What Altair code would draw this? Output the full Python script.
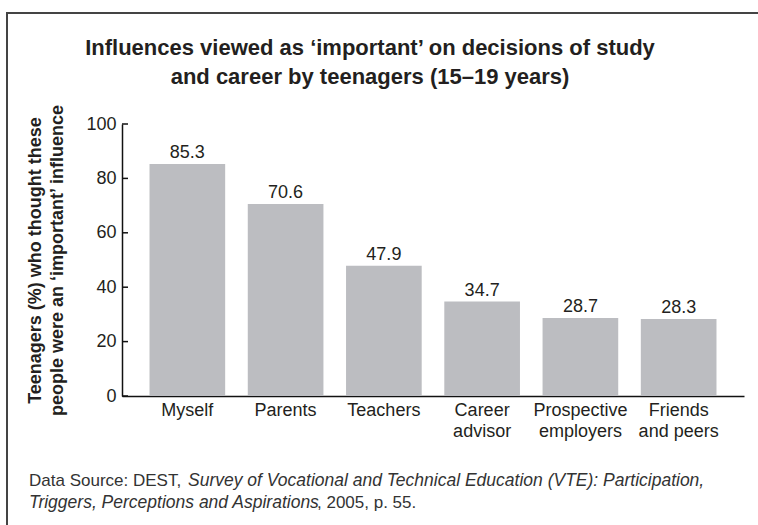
import altair as alt
import pandas as pd

# ---- data ----
categories = ["Myself", "Parents", "Teachers", "Career\nadvisor",
              "Prospective\nemployers", "Friends\nand peers"]
values = [85.3, 70.6, 47.9, 34.7, 28.7, 28.3]
y_ticks = [0, 20, 40, 60, 80, 100]

title_lines = ["Influences viewed as \u2018important\u2019 on decisions of study",
               "and career by teenagers (15\u201319 years)"]
y_title_lines = ["Teenagers (%) who thought these",
                 "people were an \u2018important\u2019 influence"]
source_text = ["Data Source: DEST,",
               "Survey of Vocational and Technical Education (VTE): Participation,",
               "Triggers, Perceptions and Aspirations",
               ", 2005, p. 55."]
source_style = ["normal", "italic", "italic", "normal"]
source_size = [17, 17.5, 17.5, 17]

FONT = "Liberation Sans"
TXT = "#231f20"
W, H = 622, 272
PAD_L, PAD_T = 122, 124

df = pd.DataFrame({"cat": categories, "val": values})
ticks_df = pd.DataFrame({"t": y_ticks})

x_enc = alt.X("cat:N", sort=None,
              scale=alt.Scale(paddingInner=0.23, paddingOuter=0.28),
              axis=alt.Axis(title=None, labelAngle=0, ticks=False,
                            domainColor="#111", domainWidth=1.5,
                            labelFont=FONT, labelFontSize=18, labelColor=TXT,
                            labelPadding=5, labelLineHeight=21,
                            labelExpr="split(datum.label, '\\n')"))
y_enc = alt.Y("val:Q", scale=alt.Scale(domain=[0, 100], nice=False),
              axis=alt.Axis(title=y_title_lines, values=y_ticks, grid=False,
                            ticks=False, domainColor="#111", domainWidth=1.5,
                            labelFont=FONT, labelFontSize=18, labelColor=TXT,
                            labelPadding=6,
                            titleFont=FONT, titleFontSize=18, titleFontWeight="bold",
                            titleColor=TXT, titleAngle=-90, titleX=-82, titleY=H / 2,
                            titleAlign="center", titleBaseline="alphabetic",
                            titleLineHeight=22))

bars = alt.Chart(df).mark_bar(color="#bcbdc1").encode(x=x_enc, y=y_enc)

labels = alt.Chart(df).mark_text(font=FONT, fontSize=18, color=TXT,
                                 baseline="alphabetic", dy=-6).encode(
    x=alt.X("cat:N", sort=None), y="val:Q", text=alt.Text("val:Q", format=".1f"))

tick_marks = alt.Chart(ticks_df).mark_rule(color="#111", strokeWidth=1.5).encode(
    y=alt.Y("t:Q"), x=alt.value(0), x2=alt.value(6))

border = alt.Chart(df).mark_rect(fill=None, stroke="#444", strokeWidth=1.5).encode(
    x=alt.value(-115), y=alt.value(-111), x2=alt.value(W + 300), y2=alt.value(H + 400))

title_layers = []
for line, yy in zip(title_lines, [-69, -40]):
    title_layers.append(
        alt.Chart(pd.DataFrame({"s": [line]})).mark_text(
            font=FONT, fontSize=22, fontWeight="bold", color=TXT,
            align="center", baseline="alphabetic").encode(
            text="s:N", x=alt.value(248), y=alt.value(yy)))

src_x = [-93, 66, -93, 195]
src_y = [362, 362, 384, 384]
src_layers = []
for t, s, fs, xx, yy in zip(source_text, source_style, source_size, src_x, src_y):
    src_layers.append(
        alt.Chart(pd.DataFrame({"s": [t]})).mark_text(
            font=FONT, fontSize=fs, fontStyle=s, color="#333",
            align="left", baseline="alphabetic").encode(
            text="s:N", x=alt.value(xx), y=alt.value(yy)))

chart = alt.layer(border, bars, labels, tick_marks, *title_layers, *src_layers).properties(
    width=W, height=H,
    background="white",
    autosize=alt.AutoSizeParams(type="none"),
    padding={"left": PAD_L, "top": PAD_T, "right": 758 - PAD_L - W,
             "bottom": 525 - PAD_T - H},
).configure_view(strokeWidth=0, stroke=None)

chart.save("out.html", embed_options={"renderer": "svg", "actions": False})
